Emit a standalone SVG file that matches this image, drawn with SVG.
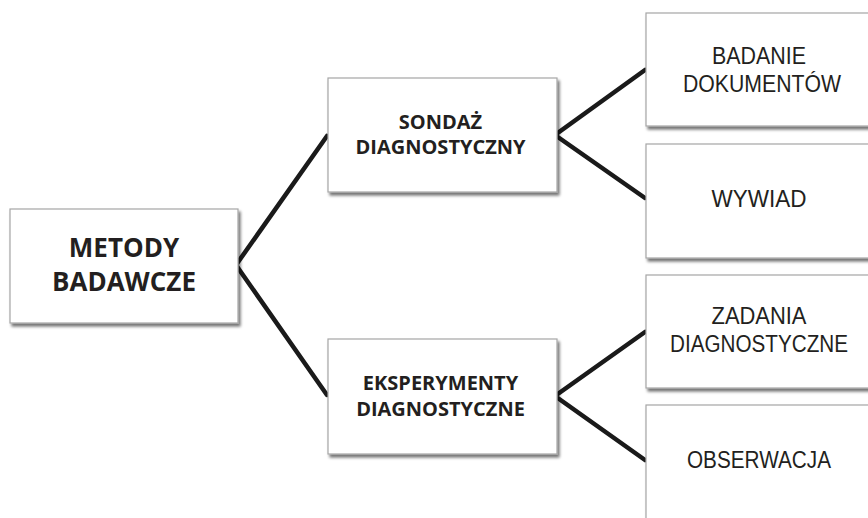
<svg xmlns="http://www.w3.org/2000/svg" width="868" height="518" viewBox="0 0 868 518">
  <defs>
    <filter id="shadow" x="-10%" y="-10%" width="130%" height="130%">
      <feGaussianBlur in="SourceAlpha" stdDeviation="1.5"/>
      <feOffset dx="2" dy="3" result="off"/>
      <feComponentTransfer><feFuncA type="linear" slope="0.55"/></feComponentTransfer>
      <feMerge><feMergeNode/><feMergeNode in="SourceGraphic"/></feMerge>
    </filter>
  </defs>
  <style>
    .box { fill: #ffffff; stroke: #a6a6a6; stroke-width: 1.2; filter: url(#shadow); }
    .t { font-family: "Open Sans", "Liberation Sans", sans-serif; fill: #231f20; text-anchor: middle; }
    .root { font-size: 26px; font-weight: bold; }
    .mid { font-size: 20px; font-weight: bold; }
    .leaf { font-family: "Liberation Sans", "Open Sans", sans-serif; font-size: 23px; }
    .link { stroke: #1a1a1a; stroke-width: 4.5; fill: none; stroke-linejoin: miter; stroke-linecap: round; }
  </style>
  <rect width="868" height="518" fill="#ffffff"/>

  <g id="connectors">
    <polyline class="link" points="327,136 236,265 327,395"/>
    <polyline class="link" points="645,70 555,135 645,198"/>
    <polyline class="link" points="645,332 555,396 645,460"/>
  </g>

  <g id="metody-badawcze">
    <rect class="box" x="10" y="209" width="228" height="114"/>
    <text class="t root" x="124" y="257">METODY</text>
    <text class="t root" x="124" y="291">BADAWCZE</text>
  </g>

  <g id="sondaz-diagnostyczny">
    <rect class="box" x="328" y="78" width="229" height="114"/>
    <text class="t mid" x="440.5" y="129">SONDAŻ</text>
    <text class="t mid" x="440.5" y="154">DIAGNOSTYCZNY</text>
  </g>

  <g id="eksperymenty-diagnostyczne">
    <rect class="box" x="328" y="339" width="229" height="115"/>
    <text class="t mid" x="440.5" y="390">EKSPERYMENTY</text>
    <text class="t mid" x="440.5" y="416">DIAGNOSTYCZNE</text>
  </g>

  <g id="badanie-dokumentow">
    <rect class="box" x="646" y="13" width="234" height="113"/>
    <text class="t leaf" x="759" y="64" textLength="94" lengthAdjust="spacingAndGlyphs">BADANIE</text>
    <text class="t leaf" x="762" y="92" textLength="158" lengthAdjust="spacingAndGlyphs">DOKUMENTÓW</text>
  </g>

  <g id="wywiad">
    <rect class="box" x="646" y="144" width="234" height="114"/>
    <text class="t leaf" x="759" y="207" textLength="95" lengthAdjust="spacingAndGlyphs">WYWIAD</text>
  </g>

  <g id="zadania-diagnostyczne">
    <rect class="box" x="646" y="275" width="234" height="113"/>
    <text class="t leaf" x="759" y="324" textLength="95" lengthAdjust="spacingAndGlyphs">ZADANIA</text>
    <text class="t leaf" x="759" y="352" textLength="178" lengthAdjust="spacingAndGlyphs">DIAGNOSTYCZNE</text>
  </g>

  <g id="obserwacja">
    <rect class="box" x="646" y="405" width="234" height="125"/>
    <text class="t leaf" x="759" y="468" textLength="144" lengthAdjust="spacingAndGlyphs">OBSERWACJA</text>
  </g>
</svg>
